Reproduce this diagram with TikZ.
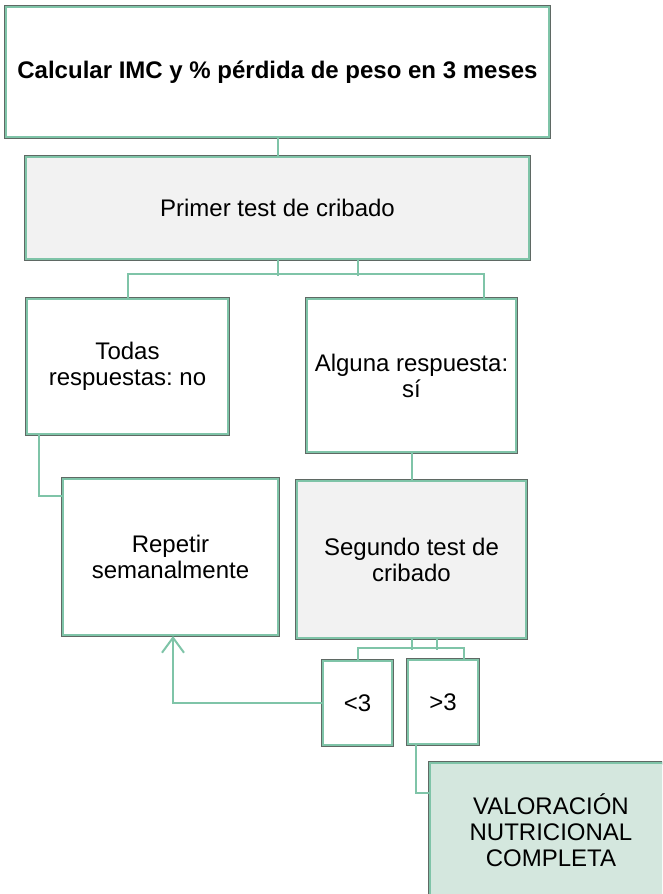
\documentclass[tikz,border=0pt]{standalone}
\usepackage{fontspec}
\setmainfont{Liberation Sans}
\frenchspacing
\usetikzlibrary{arrows.meta}
\definecolor{V}{RGB}{127, 196, 168}
\definecolor{Gr}{RGB}{95, 105, 100}
\definecolor{F}{RGB}{242, 242, 242}
\definecolor{VC}{RGB}{212, 231, 222}
\tikzset{
	caja/.style={rectangle, draw=V, line width=2pt, preaction={draw=Gr, line width=3.6pt}, fill=white, inner sep=0pt, align=center, font=\fontsize{24}{26}\selectfont},
	con/.style={draw=V, line width=2pt},
	flecha/.style={con, -{Straight Barb[length=15pt, width=22pt]}}
}
\begin{document}
\begin{tikzpicture}[x=1pt, y=-1pt]
	\clip (0,0) rectangle (662,894);

	%Cajas de arriba
	\node[caja, minimum width=543, minimum height=130, font=\fontsize{24}{26}\selectfont\bfseries] (calc) at (277.5,72) {Calcular IMC y \% pérdida de peso en 3 meses};
	\node[caja, fill=F, minimum width=503, minimum height=102] (primer) at (277.5,208) {Primer test de cribado};

	%Respuestas
	\node[caja, minimum width=201, minimum height=135] (todas) at (127.5,366.5) {Todas\\respuestas: no};
	\node[caja, minimum width=209, minimum height=153] (alguna) at (411.5,375.5) {Alguna respuesta:\\sí};

	%Segunda fila
	\node[caja, minimum width=215, minimum height=156] (repetir) at (170.5,557) {Repetir\\semanalmente};
	\node[caja, fill=F, minimum width=229, minimum height=157] (segundo) at (411.5,559.5) {Segundo test de\\cribado};

	%Resultado del segundo test
	\node[caja, minimum width=69, minimum height=84] (menos) at (357.5,703) {<3};
	\node[caja, minimum width=70, minimum height=84] (mas) at (443,702) {>3};
	\node[caja, fill=VC, minimum width=242, minimum height=134] (valor) at (551,830) {VALORACIÓN\\NUTRICIONAL\\COMPLETA};

	%Conectores
	\draw[con] (calc.south) -- (primer.north);
	\draw[con] (primer.south) -- ++(0,16);
	\draw[con] ([xshift=80.5pt]primer.south) -- ++(0,16);
	\draw[con] (todas.north) -- ++(0,-24) -| ([xshift=72.5pt]alguna.north);
	\draw[con] ([xshift=-88.5pt]todas.south) |- ([yshift=-18pt]repetir.north west);
	\draw[con] (alguna.south) -- (segundo.north);

	\draw[con] (segundo.south) -- ++(0,11);
	\draw[con] ([xshift=25.5pt]segundo.south) -- ++(0,11);
	\draw[con] (menos.north) -- ++(0,-12) -| ([xshift=21pt]mas.north);

	%Flecha de vuelta
	\draw[flecha] (menos.west) -| ([xshift=2.5pt]repetir.south);
	\draw[con] ([xshift=-27pt]mas.south) |- ([yshift=-31pt]valor.north west);
\end{tikzpicture}
\end{document}
